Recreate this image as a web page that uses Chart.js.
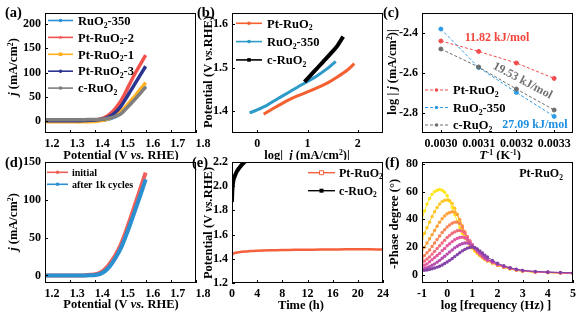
<!DOCTYPE html>
<html>
<head>
<meta charset="utf-8">
<script src="https://cdn.jsdelivr.net/npm/chart.js@4.4.0/dist/chart.umd.min.js"></script>
<style>
  body { margin: 0; background: #fff; width: 585px; height: 315px; position: relative; overflow: hidden; }
  canvas { position: absolute; }
</style>
</head>
<body>
<canvas id="pa"></canvas>
<canvas id="pb"></canvas>
<canvas id="pc"></canvas>
<canvas id="pd"></canvas>
<canvas id="pe"></canvas>
<canvas id="pf"></canvas>
<script>
const FONT = '"Liberation Serif", "Times New Roman", serif';

// ---- (a) LSV, j (mA/cm2) vs potential
const potA = [1.20,1.22,1.24,1.26,1.28,1.30,1.32,1.34,1.36,1.38,1.40,1.42,1.44,1.46,1.48,1.50,1.52,1.54,1.56,1.58,1.60];
const jRuO2_350 = [0,0,0,0,0,0,0,0,0.2,0.5,1,1.5,2.5,5,9,15,25,36,48,60,72];
const jPtRuO2_2 = [0.5,0.5,0.5,0.5,0.5,0.5,0.5,0.5,0.8,1.2,2,4,8,15,26,40,59,80,100,118,136];
const jPtRuO2_1 = [-2,-2,-2,-2,-2,-2,-2,-2,-1.8,-1.5,-1,0.3,2.5,6,11,19,29,41,53,66,79];
const jPtRuO2_3 = [0.5,0.5,0.5,0.5,0.5,0.5,0.5,0.5,0.8,1.2,2,3,5,10,18,29,45,62,79,96,113];
const jcRuO2 = [2.5,2.5,2.5,2.5,2.5,2.5,2.5,2.5,2.6,2.8,3,3.5,4.5,6.5,9.5,14,24,35,46,58,70];
const ticksAx = [1.2,1.3,1.4,1.5,1.6,1.7,1.8];
const ticksAy = [0,50,100,150,200];

// ---- (b) Tafel
const logjPt = [0.13,0.3,0.5,0.65,0.8,1.0,1.2,1.4,1.6,1.8,1.93];
const ePt = [1.393,1.405,1.418,1.427,1.435,1.444,1.454,1.465,1.479,1.495,1.509];
const logj350 = [-0.15,0,0.2,0.4,0.64,0.8,1.0,1.2,1.4,1.56];
const e350 = [1.396,1.403,1.414,1.428,1.444,1.455,1.468,1.482,1.498,1.514];
const logjC = [0.94,1.1,1.3,1.5,1.6,1.71];
const eC = [1.467,1.487,1.512,1.537,1.551,1.571];
const ticksBx = [0,1,2];
const ticksBy = [1.4,1.5,1.6];

// ---- (c) Arrhenius
const invT = [0.0030,0.0031,0.0032,0.0033];
const arrPt = [-2.44,-2.492,-2.55,-2.627];
const arr350 = [-2.38,-2.572,-2.697,-2.817];
const arrC = [-2.48,-2.57,-2.68,-2.785];
const ticksCx = [0.0030,0.0031,0.0032,0.0033];
const ticksCy = [-2.8,-2.6,-2.4];

// ---- (d) stability LSV
const potD = [1.20,1.22,1.24,1.26,1.28,1.30,1.32,1.34,1.36,1.38,1.40,1.42,1.44,1.46,1.48,1.50,1.52,1.54,1.56,1.58,1.60];
const jInitial = [0,0,0,0,0,0,0,0,0.3,0.8,1.5,4,9,17,27,40,57,76,96,116,136];
const jAfter1k = [0,0,0,0,0,0,0,0,0,0.2,0.5,2,6,13,23,35,51,69,88,107,127];
const ticksDy = [0,50,100,150];

// ---- (e) chronopotentiometry
const tPt = [0,0.1,0.3,0.6,1,1.5,2,3,4,6,8,10,12,14,16,18,20,22,24];
const vPt = [1.430,1.438,1.445,1.450,1.455,1.458,1.461,1.464,1.467,1.470,1.472,1.474,1.475,1.476,1.477,1.478,1.478,1.478,1.477];
const tC = [0,0.02,0.05,0.1,0.2,0.35,0.5,0.75,1.0,1.3,1.6,1.9,2.2];
const vC = [1.87,1.92,1.96,2.00,2.04,2.07,2.09,2.12,2.14,2.16,2.18,2.195,2.21];
const ticksEx = [0,4,8,12,16,20,24];
const ticksEy = [1.2,1.4,1.6,1.8,2.0,2.2];

// ---- (f) Bode phase, Pt-RuO2 at increasing potentials
const logF = [-1.0,-0.9,-0.8,-0.7,-0.6,-0.5,-0.4,-0.3,-0.2,-0.1,0.0,0.1,0.2,0.3,0.4,0.5,0.6,0.7,0.8,0.9,1.0,1.1,1.2,1.3,1.4,1.5,1.6,1.8,2.0,2.25,2.5,2.75,3.0,3.5,4.0,4.5,5.0];
const phase1 = [40,46,51,55,58,60,61,61.5,61,59.5,57,53,48.5,43.5,38.5,34,30,26.5,23.5,21,19,17,15.3,13.8,12.4,11.1,10,8.5,6.8,5.4,4.3,3.3,2.6,2.0,1.7,1.4,1.1];
const phase2 = [26,30,34,38,42,45.5,48.5,51,52.8,53.8,54,53.5,51.5,48,43.5,38.5,33.5,29,25.5,22.5,20,17.8,15.8,14.1,12.6,11.3,10.1,8.6,6.9,5.5,4.4,3.4,2.7,2.0,1.7,1.4,1.1];
const phase3 = [18,20,23,26,29,32,35,38,40.5,42.5,44,45,45.5,45.2,43.5,40,35.5,31,27,23.5,20.8,18.3,16.2,14.4,12.8,11.4,10.2,8.7,7.0,5.6,4.5,3.5,2.8,2.1,1.7,1.4,1.1];
const phase4 = [12,14,16,18,20.5,23,25.5,28,30.5,32.5,34.5,36,37.2,38,38,37,34.5,31,27.5,24.2,21.4,18.8,16.6,14.7,13,11.6,10.4,8.9,7.2,5.7,4.6,3.6,2.9,2.1,1.8,1.5,1.2];
const phase5 = [9,10,11.5,13,15,17,19,21,23,25,27,28.5,30,31,31.8,32,31.5,30,27.5,24.6,21.8,19.2,17,15,13.3,11.8,10.6,9.1,7.4,5.9,4.7,3.7,3.0,2.2,1.8,1.5,1.2];
const phase6 = [6,7,8,9.5,11,12.5,14,15.5,17.5,19,21,22.5,24,25.3,26.3,27,27.2,26.8,25.5,23.6,21.6,19.4,17.3,15.4,13.6,12.1,10.8,9.3,7.6,6.1,4.9,3.8,3.1,2.3,1.9,1.6,1.3];
const phase7 = [4,4.5,5.2,6,7,8,9.2,10.5,12,13.5,15,16.5,18,19.5,20.7,21.7,22.5,23,23,22.3,21,19.5,17.7,16,14.3,12.7,11.3,9.6,7.9,6.3,5.0,3.9,3.2,2.4,2.0,1.7,1.4];
const phase8 = [3,3.3,3.6,4,4.5,5,5.6,6.3,7.2,8.2,9.3,10.5,11.8,13.2,14.6,16,17.3,18.4,19.3,19.8,20,19.6,18.7,17.3,15.8,14.3,12.9,10.5,8.4,6.6,5.2,4.1,3.3,2.5,2.1,1.8,1.5];
const phaseColors = ['#FFE619','#FFC726','#FFA03A','#FA8457','#F26C7E','#E55A9E','#B84BAE','#8441A6'];
const ticksFx = [-1,0,1,2,3,4,5];
const ticksFy = [0,20,40,60,80];

// ---------- helpers ----------
function pts(xs, ys) { return xs.map((x, i) => ({ x: x, y: ys[i] })); }

function parseRich(s) {
  const segs = []; let it = false, mode = 0, buf = '';
  const push = () => { if (buf) { segs.push({ t: buf, it: it, mode: mode }); buf = ''; } };
  for (let i = 0; i < s.length; i++) {
    const ch = s[i];
    if (ch === '*') { push(); it = !it; }
    else if ((ch === '_' || ch === '^') && s[i + 1] === '{') { push(); mode = ch === '_' ? 1 : 2; i++; }
    else if (ch === '}' && mode) { push(); mode = 0; }
    else buf += ch;
  }
  push();
  return segs;
}

function drawRich(c, s, x, y, size, opt) {
  opt = opt || {};
  const segs = parseRich(s);
  const fontOf = g => (g.it ? 'italic ' : '') + 'bold ' + (g.mode ? size * 0.62 : size) + 'px ' + FONT;
  let w = 0;
  segs.forEach(g => { c.font = fontOf(g); g.w = c.measureText(g.t).width; w += g.w; });
  c.save();
  c.translate(x, y);
  if (opt.rot) c.rotate(opt.rot);
  c.fillStyle = opt.color || '#000';
  c.textBaseline = 'alphabetic';
  let cx = opt.align === 'left' ? 0 : -w / 2;
  const base = size * 0.34;
  segs.forEach(g => {
    c.font = fontOf(g);
    const dy = g.mode === 1 ? size * 0.22 : g.mode === 2 ? -size * 0.38 : 0;
    c.fillText(g.t, cx, base + dy);
    cx += g.w;
  });
  c.restore();
}

function marker(c, type, x, y, r, color) {
  c.save();
  c.fillStyle = color; c.strokeStyle = color; c.lineWidth = 1; c.setLineDash([]);
  c.beginPath();
  if (type === 'square' || type === 'squareOpen') c.rect(x - r, y - r, 2 * r, 2 * r);
  else if (type === 'star') {
    for (let k = 0; k < 10; k++) {
      const a = -Math.PI / 2 + k * Math.PI / 5, rr = k % 2 ? r * 0.5 : r * 1.2;
      c.lineTo(x + rr * Math.cos(a), y + rr * Math.sin(a));
    }
    c.closePath();
  } else c.arc(x, y, r, 0, Math.PI * 2);
  if (type === 'squareOpen') { c.fillStyle = '#fff'; c.fill(); c.stroke(); } else c.fill();
  c.restore();
}

// frame, inward ticks, titles, legends and notes
const decoPlugin = {
  id: 'deco',
  afterDraw(chart, args, o) {
    const c = chart.ctx, a = chart.chartArea;
    c.save();
    c.strokeStyle = '#000'; c.lineWidth = 1;
    c.strokeRect(a.left + 0.5, a.top + 0.5, a.right - a.left - 1, a.bottom - a.top - 1);
    const xs = chart.scales.x, ys = chart.scales.y;
    c.beginPath();
    xs.ticks.forEach(t => { const p = Math.round(xs.getPixelForValue(t.value)) + 0.5; c.moveTo(p, a.bottom); c.lineTo(p, a.bottom - 3); });
    ys.ticks.forEach(t => { const p = Math.round(ys.getPixelForValue(t.value)) + 0.5; c.moveTo(a.left, p); c.lineTo(a.left + 3, p); });
    c.stroke();
    c.translate(-o.ox, -o.oy);
    // panel letter
    drawRich(c, o.label[0], o.label[1], o.label[2], 14.5, { align: 'left' });
    drawRich(c, o.xTitle[0], o.xTitle[1], o.xTitle[2], 12.5);
    drawRich(c, o.yTitle[0], o.yTitle[1], o.yTitle[2], 12.5, { rot: -Math.PI / 2 });
    (o.texts || []).forEach(t => drawRich(c, t.t, t.x, t.y, t.size || 12, t));
    const L = o.legend;
    if (L) {
      L.items.forEach((it, i) => {
        const ds = chart.data.datasets[it.ds];
        const y = L.y + i * L.dy;
        c.save();
        c.strokeStyle = ds.borderColor; c.lineWidth = L.lw;
        c.setLineDash(ds.borderDash || []);
        c.beginPath(); c.moveTo(L.x, y); c.lineTo(L.x + L.len, y); c.stroke();
        c.restore();
        marker(c, it.marker, L.x + L.len / 2, y, L.r || 2, ds.borderColor);
        drawRich(c, ds.label, L.x + L.len + L.gap, y, L.size, { align: 'left' });
      });
    }
    c.restore();
  }
};

function lin(min, max, tickVals, digits, fit, horiz, labelOffset) {
  return {
    type: 'linear', min: min, max: max,
    afterBuildTicks: s => { s.ticks = tickVals.map(v => ({ value: v })); },
    afterFit: s => { if (horiz) s.height = fit; else s.width = fit; },
    grid: { display: false, drawTicks: false },
    border: { display: false },
    ticks: {
      autoSkip: false, maxRotation: 0, padding: 4, labelOffset: labelOffset || 0, color: '#000',
      font: { family: FONT, size: 12, weight: 'bold' },
      callback: v => Number(v).toFixed(digits)
    }
  };
}

function makePanel(id, box, plot, xs, ys, datasets, deco) {
  const cv = document.getElementById(id);
  cv.width = box[2]; cv.height = box[3];
  cv.style.left = box[0] + 'px'; cv.style.top = box[1] + 'px';
  cv.style.width = box[2] + 'px'; cv.style.height = box[3] + 'px';
  deco.ox = box[0]; deco.oy = box[1];
  return new Chart(cv, {
    type: 'line',
    data: { datasets: datasets },
    options: {
      responsive: false, animation: false, events: [],
      layout: { padding: { left: 0, top: plot[1] - box[1], right: box[0] + box[2] - plot[2], bottom: 0 } },
      scales: {
        x: lin(xs[0], xs[1], xs[2], xs[3], box[1] + box[3] - plot[3], true, xs[4]),
        y: lin(ys[0], ys[1], ys[2], ys[3], plot[0] - box[0], false)
      },
      plugins: { legend: { display: false }, tooltip: { enabled: false }, deco: deco }
    },
    plugins: [decoPlugin]
  });
}

function curve(label, xs, ys, color, width, order, extra) {
  return Object.assign({ label: label, data: pts(xs, ys), borderColor: color, backgroundColor: color,
    borderWidth: width, pointRadius: 0, tension: 0.3, order: order, clip: 0 }, extra || {});
}

// (a)
makePanel('pa', [0, 0, 215, 160], [45, 13, 196, 133],
  [1.2, 1.8, ticksAx, 1, 7], [-25, 223, ticksAy, 0],
  [
    curve('RuO_{2}-350', potA, jRuO2_350, '#2E8FD6', 3.5, 5),
    curve('Pt-RuO_{2}-2', potA, jPtRuO2_2, '#F2524E', 3.5, 4),
    curve('Pt-RuO_{2}-1', potA, jPtRuO2_1, '#FFB020', 3.5, 3),
    curve('Pt-RuO_{2}-3', potA, jPtRuO2_3, '#2B3590', 3.5, 2),
    curve('c-RuO_{2}', potA, jcRuO2, '#7F7F7F', 3.5, 1)
  ],
  {
    label: ['(a)', 5, 12], xTitle: ['Potential (V *vs.* RHE)', 121, 155], yTitle: ['*j* (mA/cm^{2})', 13, 67],
    legend: { x: 48, y: 20.5, dy: 16.9, len: 25, gap: 5, size: 12.5, lw: 1.6, r: 1.8,
      items: [{ ds: 0, marker: 'circle' }, { ds: 1, marker: 'star' }, { ds: 2, marker: 'square' }, { ds: 3, marker: 'circle' }, { ds: 4, marker: 'circle' }] }
  });

// (b)
makePanel('pb', [190, 0, 215, 160], [232, 13, 383, 133],
  [-0.5, 2.5, ticksBx, 0], [1.35, 1.625, ticksBy, 1],
  [
    curve('Pt-RuO_{2}', logjPt, ePt, '#F4602F', 3, 3),
    curve('RuO_{2}-350', logj350, e350, '#2E9AC8', 3, 2),
    curve('c-RuO_{2}', logjC, eC, '#000000', 4, 1)
  ],
  {
    label: ['(b)', 197, 12], xTitle: ['log|  *j* (mA/cm^{2})|', 307, 155], yTitle: ['Potential (V *vs.*RHE)', 208, 72],
    legend: { x: 236, y: 23.3, dy: 18.3, len: 26, gap: 5, size: 12.5, lw: 1.6, r: 1.8,
      items: [{ ds: 0, marker: 'circle' }, { ds: 1, marker: 'circle' }, { ds: 2, marker: 'square' }] }
  });

// (c)
const dashed = { borderDash: [3, 2], pointRadius: 2, tension: 0 };
makePanel('pc', [380, 0, 205, 160], [422, 13, 573, 133],
  [0.00295, 0.00335, ticksCx, 4], [-2.9, -2.3, ticksCy, 1],
  [
    curve('Pt-RuO_{2}', invT, arrPt, '#F24B4B', 1, 3, dashed),
    curve('RuO_{2}-350', invT, arr350, '#2E9BE6', 1, 2, dashed),
    curve('c-RuO_{2}', invT, arrC, '#6E6E6E', 1, 1, dashed)
  ],
  {
    label: ['(c)', 383, 12], xTitle: ['*T*^{-1} (K^{-1})', 500, 155], yTitle: ['log | *j* (mA/cm^{2})|', 392, 72],
    legend: { x: 425, y: 90, dy: 17.5, len: 23, gap: 5, size: 12.5, lw: 1, r: 1.8,
      items: [{ ds: 0, marker: 'circle' }, { ds: 1, marker: 'circle' }, { ds: 2, marker: 'circle' }] },
    texts: [
      { t: '11.82 kJ/mol', x: 497, y: 37, color: '#F2453D', size: 12 },
      { t: '19.53 kJ/mol', x: 523, y: 80, color: '#707070', size: 12, rot: 28 * Math.PI / 180 },
      { t: '27.09 kJ/mol', x: 535, y: 124, color: '#1E8FE0', size: 12 }
    ]
  });

// (d)
makePanel('pd', [0, 150, 215, 165], [45, 162, 196, 283],
  [1.2, 1.8, ticksAx, 1, 7], [-10, 150, ticksDy, 0],
  [
    curve('initial', potD, jInitial, '#F0605A', 4, 2),
    curve('after 1k cycles', potD, jAfter1k, '#2B90D0', 4, 1)
  ],
  {
    label: ['(d)', 5, 162], xTitle: ['Potential (V *vs.* RHE)', 121, 304], yTitle: ['*j* (mA/cm^{2})', 13, 222],
    legend: { x: 47, y: 172.3, dy: 12, len: 21, gap: 4, size: 10, lw: 1.6, r: 1.8,
      items: [{ ds: 0, marker: 'circle' }, { ds: 1, marker: 'circle' }] }
  });

// (e)
makePanel('pe', [190, 150, 215, 165], [232, 162, 383, 283],
  [0, 24, ticksEx, 0], [1.2, 2.2, ticksEy, 1],
  [
    curve('Pt-RuO_{2}', tPt, vPt, '#F5603C', 2.5, 2),
    curve('c-RuO_{2}', tC, vC, '#000000', 4, 1)
  ],
  {
    label: ['(e)', 192, 162], xTitle: ['Time (h)', 301, 305], yTitle: ['Potential (V *vs.*RHE)', 208, 223],
    legend: { x: 308, y: 172.7, dy: 18, len: 27, gap: 4, size: 12, lw: 1.4, r: 2,
      items: [{ ds: 0, marker: 'squareOpen' }, { ds: 1, marker: 'square' }] }
  });

// (f)
const phases = [phase1, phase2, phase3, phase4, phase5, phase6, phase7, phase8];
makePanel('pf', [380, 150, 205, 165], [422, 162, 573, 283],
  [-1, 5, ticksFx, 0], [-5.8, 81.3, ticksFy, 0],
  phases.map((ph, i) => curve('E' + (i + 1), logF, ph, phaseColors[i], 1, 8 - i,
    { pointRadius: 1.7, pointBorderWidth: 0, tension: 0 })),
  {
    label: ['(f)', 385, 162], xTitle: ['log [frequency (Hz) ]', 496, 305], yTitle: ['-Phase degree (°)', 394, 224],
    texts: [{ t: 'Pt-RuO_{2}', x: 541, y: 173, size: 12 }]
  });
</script>
</body>
</html>
